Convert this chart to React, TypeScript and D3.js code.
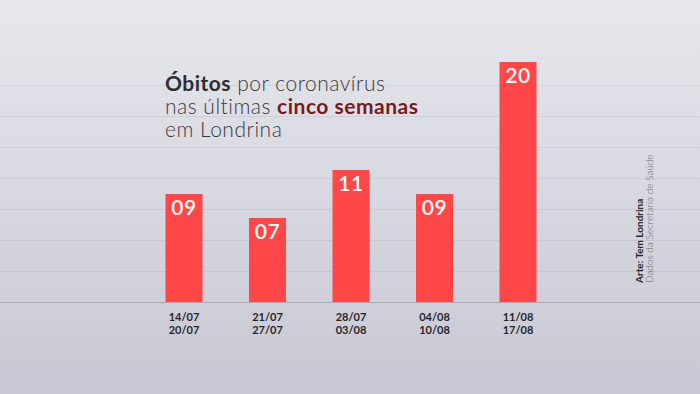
import { useEffect, useRef } from "react";
import * as d3 from "d3";

const semanasInicio = ["14/07", "21/07", "28/07", "04/08", "11/08"];
const semanasFim = ["20/07", "27/07", "03/08", "10/08", "17/08"];
const obitos = [9, 7, 11, 9, 20];
const rotulos = ["09", "07", "11", "09", "20"];

const W = 700;
const H = 394;

const App = () => {
  const svgRef = useRef<SVGSVGElement | null>(null);

  useEffect(() => {
    if (!svgRef.current) return;
    const svg = d3.select(svgRef.current);
    svg.selectAll("*").remove();

    // background gradient
    const defs = svg.append("defs");
    const grad = defs
      .append("linearGradient")
      .attr("id", "bg")
      .attr("x1", 0)
      .attr("y1", 0)
      .attr("x2", 0)
      .attr("y2", 1);
    grad.append("stop").attr("offset", "0%").attr("stop-color", "#e7e7ed");
    grad.append("stop").attr("offset", "100%").attr("stop-color", "#c8c8d4");
    svg.append("rect").attr("width", W).attr("height", H).attr("fill", "url(#bg)");

    const y = d3.scaleLinear().domain([0, 20]).range([302, 62]);
    const x = d3.scalePoint<string>().domain(semanasInicio).range([184, 518]);
    const barW = 37;

    // decorative grid lines, every 31px above baseline
    const gridYs = d3.range(0, 8).map((i) => y(0) - i * 31);
    svg
      .selectAll("line.grid")
      .data(gridYs)
      .enter()
      .append("line")
      .attr("x1", 0)
      .attr("x2", W)
      .attr("y1", (d) => d + 0.5)
      .attr("y2", (d) => d + 0.5)
      .attr("stroke", (_, i) => (i === 0 ? "#a9a9b6" : "#c3c3cd"))
      .attr("stroke-width", 1)
      .attr("opacity", (_, i) => (i === 0 ? 1 : 1 - i * 0.08));

    // title
    const title = svg
      .append("text")
      .attr("x", 165)
      .attr("font-family", "Lato, 'Open Sans', sans-serif")
      .attr("font-size", 21)
      .attr("letter-spacing", 0.5)
      .attr("fill", "#3a3a3e");
    const l1 = title.append("tspan").attr("x", 165).attr("y", 91);
    l1.append("tspan").attr("font-weight", 700).attr("fill", "#2e2e32").text("Óbitos");
    l1.append("tspan").attr("font-weight", 300).text(" por coronavírus");
    const l2 = title.append("tspan").attr("x", 165).attr("y", 114);
    l2.append("tspan").attr("font-weight", 300).text("nas últimas ");
    l2.append("tspan").attr("font-weight", 700).attr("fill", "#7b1a1c").text("cinco semanas");
    title
      .append("tspan")
      .attr("x", 165)
      .attr("y", 137)
      .attr("font-weight", 300)
      .text("em Londrina");

    // bars
    svg
      .selectAll("rect.bar")
      .data(obitos)
      .enter()
      .append("rect")
      .attr("x", (_, i) => x(semanasInicio[i])! - barW / 2)
      .attr("y", (d) => y(d))
      .attr("width", barW)
      .attr("height", (d) => y(0) - y(d))
      .attr("fill", "#ff4747");

    // value labels
    svg
      .selectAll("text.val")
      .data(obitos)
      .enter()
      .append("text")
      .attr("x", (_, i) => x(semanasInicio[i])!)
      .attr("y", (d) => y(d) + 21)
      .attr("text-anchor", "middle")
      .attr("font-family", "Lato, sans-serif")
      .attr("font-weight", 600)
      .attr("font-size", 21)
      .attr("letter-spacing", 0.5)
      .attr("fill", "#ffffff")
      .text((_, i) => rotulos[i]);

    // x labels
    const xl = svg
      .selectAll("text.xl")
      .data(semanasInicio)
      .enter()
      .append("text")
      .attr("text-anchor", "middle")
      .attr("font-family", "Lato, sans-serif")
      .attr("font-weight", 700)
      .attr("font-size", 11)
      .attr("fill", "#26262a");
    xl.append("tspan")
      .attr("x", (d) => x(d)!)
      .attr("y", 321)
      .text((d) => d);
    xl.append("tspan")
      .attr("x", (d) => x(d)!)
      .attr("y", 334)
      .text((_, i) => semanasFim[i]);

    // credits
    svg
      .append("text")
      .attr("transform", "translate(643,283) rotate(-90)")
      .attr("font-family", "Lato, sans-serif")
      .attr("font-weight", 700)
      .attr("font-size", 10)
      .attr("fill", "#2a2a2e")
      .text("Arte: Tem Londrina");
    svg
      .append("text")
      .attr("transform", "translate(653,283) rotate(-90)")
      .attr("font-family", "Lato, sans-serif")
      .attr("font-weight", 300)
      .attr("font-size", 10)
      .attr("fill", "#6a6a72")
      .text("Dados da Secretaria de Saúde");
  }, []);

  return (
    <svg
      ref={svgRef}
      width={W}
      height={H}
      style={{ position: "absolute", left: 0, top: 0, display: "block" }}
    />
  );
};

export default App;
